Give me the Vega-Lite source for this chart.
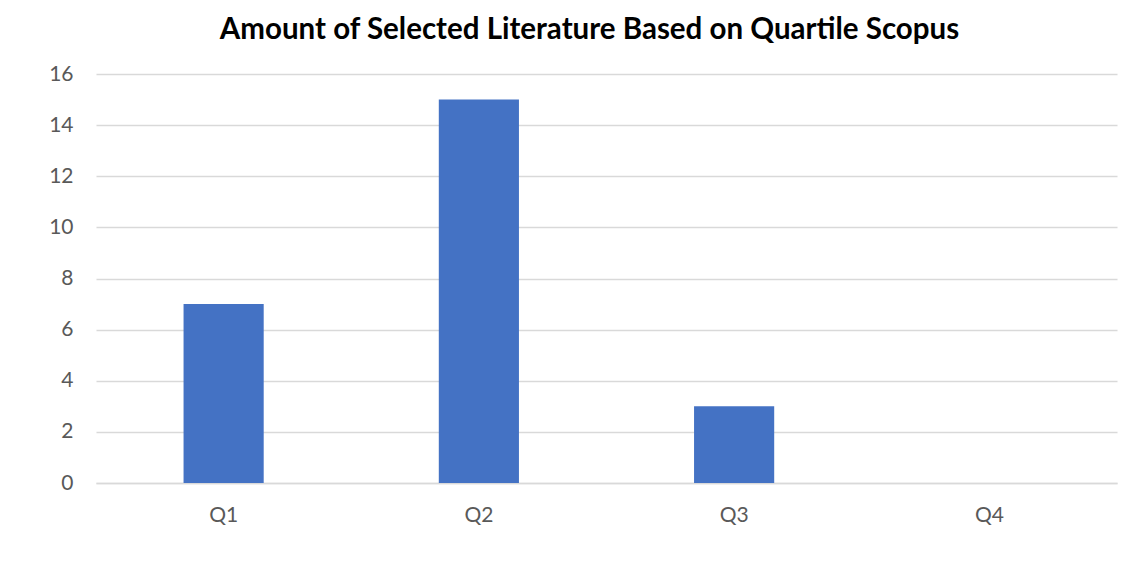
{
  "$schema": "https://vega.github.io/schema/vega-lite/v6.json",
  "autosize": {"type": "none"},
  "width": 1021,
  "height": 409,
  "padding": {"left": 96, "top": 74, "right": 19, "bottom": 85},
  "background": "white",
  "title": {
    "text": "Amount of Selected Literature Based on Quartile Scopus",
    "font": "Lato",
    "fontSize": 29.5,
    "fontWeight": "bold",
    "color": "#000000",
    "anchor": "middle",
    "dx": -17,
    "offset": 18
  },
  "data": {
    "values": [
      {"quartile": "Q1", "count": 7},
      {"quartile": "Q2", "count": 15},
      {"quartile": "Q3", "count": 3},
      {"quartile": "Q4", "count": 0}
    ]
  },
  "mark": {"type": "bar", "color": "#4472C4"},
  "encoding": {
    "x": {
      "field": "quartile",
      "type": "nominal",
      "sort": null,
      "scale": {"paddingInner": 0.686, "paddingOuter": 0.343},
      "axis": {
        "title": null,
        "labelAngle": 0,
        "labelFont": "Lato",
        "labelFontSize": 21,
        "labelColor": "#595959",
        "labelPadding": 21,
        "ticks": false,
        "domainColor": "#d9d9d9",
        "domainWidth": 1.5
      }
    },
    "y": {
      "field": "count",
      "type": "quantitative",
      "scale": {"domain": [0, 16]},
      "axis": {
        "title": null,
        "values": [0, 2, 4, 6, 8, 10, 12, 14, 16],
        "labelFont": "Lato",
        "labelFontSize": 21,
        "labelColor": "#595959",
        "labelPadding": 23,
        "ticks": false,
        "domain": false,
        "gridColor": "#d9d9d9",
        "gridWidth": 1.5
      }
    }
  },
  "config": {"view": {"stroke": null}}
}
